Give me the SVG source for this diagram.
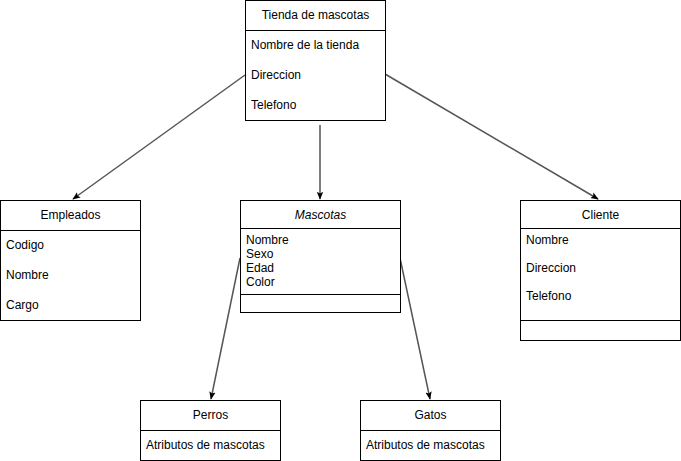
<svg xmlns="http://www.w3.org/2000/svg" width="681" height="461" viewBox="0 0 681 461">
  <defs>
    <marker id="arrow" viewBox="0 0 10 10" refX="9" refY="5" markerWidth="8" markerHeight="8" orient="auto" markerUnits="userSpaceOnUse">
      <path d="M0,1 L10,5 L0,9 L2,5 Z" fill="#000"/>
    </marker>
  </defs>
  <style>
    .box { fill: #fff; stroke: #000; stroke-width: 1; }
    .sep { stroke: #000; stroke-width: 1; }
    .t { font-family: "Liberation Sans", Arial, sans-serif; font-size: 12px; fill: #000; }
    .c { text-anchor: middle; }
    .edge { fill: none; stroke: #555; stroke-width: 1.5; marker-end: url(#arrow); }
  </style>
  <rect width="681" height="461" fill="#fff"/>

  <g id="connectors">
    <line class="edge" x1="245" y1="75" x2="73" y2="199"/>
    <line class="edge" x1="320" y1="125" x2="320" y2="199"/>
    <line class="edge" x1="385" y1="74" x2="598" y2="199"/>
    <line class="edge" x1="240" y1="258" x2="211" y2="399"/>
    <line class="edge" x1="400" y1="258" x2="430" y2="399"/>
  </g>

  <g id="tienda">
    <rect class="box" x="245.5" y="0.5" width="140" height="120"/>
    <line class="sep" x1="245.5" y1="30.5" x2="385.5" y2="30.5"/>
    <text class="t c" x="315.5" y="19">Tienda de mascotas</text>
    <text class="t" x="251" y="49">Nombre de la tienda</text>
    <text class="t" x="251" y="79">Direccion</text>
    <text class="t" x="251" y="109">Telefono</text>
  </g>

  <g id="empleados">
    <rect class="box" x="0.5" y="200.5" width="140" height="120"/>
    <line class="sep" x1="0.5" y1="230.5" x2="140.5" y2="230.5"/>
    <text class="t c" x="70.5" y="219">Empleados</text>
    <text class="t" x="6" y="249">Codigo</text>
    <text class="t" x="6" y="279">Nombre</text>
    <text class="t" x="6" y="309">Cargo</text>
  </g>

  <g id="mascotas">
    <rect class="box" x="240.5" y="200.5" width="160" height="112"/>
    <line class="sep" x1="240.5" y1="228.5" x2="400.5" y2="228.5"/>
    <line class="sep" x1="240.5" y1="294.5" x2="400.5" y2="294.5"/>
    <text class="t c" x="320.5" y="219" font-style="italic">Mascotas</text>
    <text class="t" x="246" y="244">Nombre</text>
    <text class="t" x="246" y="258">Sexo</text>
    <text class="t" x="246" y="272">Edad</text>
    <text class="t" x="246" y="286">Color</text>
  </g>

  <g id="cliente">
    <rect class="box" x="520.5" y="200.5" width="160" height="140"/>
    <line class="sep" x1="520.5" y1="228.5" x2="680.5" y2="228.5"/>
    <line class="sep" x1="520.5" y1="320.5" x2="680.5" y2="320.5"/>
    <text class="t c" x="600.5" y="219">Cliente</text>
    <text class="t" x="526" y="244">Nombre</text>
    <text class="t" x="526" y="272">Direccion</text>
    <text class="t" x="526" y="300">Telefono</text>
  </g>

  <g id="perros">
    <rect class="box" x="140.5" y="400.5" width="140" height="60"/>
    <line class="sep" x1="140.5" y1="430.5" x2="280.5" y2="430.5"/>
    <text class="t c" x="210.5" y="419">Perros</text>
    <text class="t" x="146" y="449">Atributos de mascotas</text>
  </g>

  <g id="gatos">
    <rect class="box" x="360.5" y="400.5" width="140" height="60"/>
    <line class="sep" x1="360.5" y1="430.5" x2="500.5" y2="430.5"/>
    <text class="t c" x="430.5" y="419">Gatos</text>
    <text class="t" x="366" y="449">Atributos de mascotas</text>
  </g>
</svg>
